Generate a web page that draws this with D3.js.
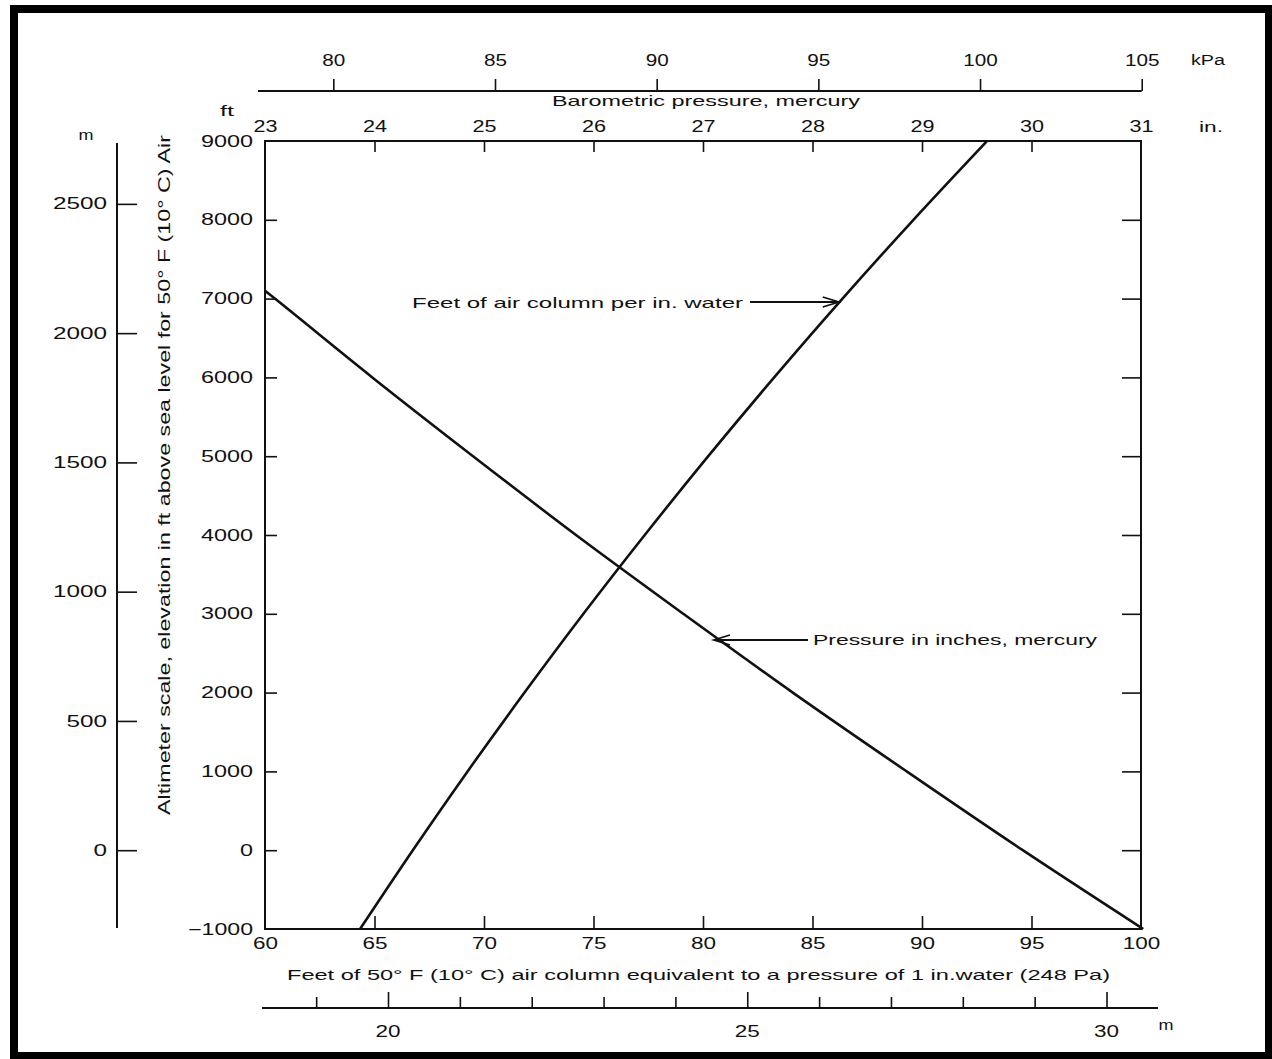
<!DOCTYPE html>
<html><head><meta charset="utf-8">
<script src="https://cdn.jsdelivr.net/npm/d3@7"></script>
<style>
html,body{margin:0;padding:0;background:#fff;}
svg text{font-family:"Liberation Sans",Arial,sans-serif;fill:#111;}
</style></head>
<body>
<svg id="c" width="1272" height="1059"></svg>
<script>
// ---- Data ----
const elevTicksFt = [9000, 8000, 7000, 6000, 5000, 4000, 3000, 2000, 1000, 0, -1000];
const elevTicksM = [2500, 2000, 1500, 1000, 500, 0];
const airColTicks = [60, 65, 70, 75, 80, 85, 90, 95, 100];
const airColTicksM = [19, 20, 21, 22, 23, 24, 25, 26, 27, 28, 29, 30];
const airColLabelsM = [20, 25, 30];
const pressureTicksIn = [23, 24, 25, 26, 27, 28, 29, 30, 31];
const pressureTicksKpa = [80, 85, 90, 95, 100, 105];

// Pressure in inches mercury vs elevation
const pressureElevFt = [-1000, 0, 1000, 2000, 3000, 4000, 5000, 6000, 7000, 7100];
const pressureInHg   = [31.02, 29.92, 28.86, 27.82, 26.82, 25.84, 24.90, 23.98, 23.09, 23.0];

// Feet of air column per inch water vs elevation
const airColElevFt = [-1000, 0, 1000, 2000, 3000, 4000, 5000, 6000, 7000, 8000, 9000];
const airColFt     = [64.34, 66.75, 69.25, 71.85, 74.54, 77.34, 80.24, 83.25, 86.37, 89.61, 92.97];

// ---- Scales ----
const L = 265, R = 1141, T = 141, B = 929;
const x = d3.scaleLinear().domain([60, 100]).range([L, R]);
const xIn = d3.scaleLinear().domain([23, 31]).range([L, R]);
const y = d3.scaleLinear().domain([-1000, 9000]).range([B, T]);
const FT_PER_M = 1 / 0.3048;
const IN_PER_KPA = 0.2953;
const yM = d3.scaleLinear().domain([0, 1]).range([y(0), y(FT_PER_M)]);
const xM = d3.scaleLinear().domain([0, 1]).range([x(0), x(FT_PER_M)]);
const xKpa = d3.scaleLinear().domain([0, 1]).range([xIn(0), xIn(IN_PER_KPA)]);

const svg = d3.select("#c");
const ink = "#111";
const FONT = '"Liberation Sans",Arial,sans-serif';

// outer frame
svg.append("rect").attr("x", 14).attr("y", 9).attr("width", 1255).attr("height", 1047)
  .attr("fill", "none").attr("stroke", "#000").attr("stroke-width", 8);

// plot frame
svg.append("rect").attr("x", L).attr("y", T).attr("width", R - L).attr("height", B - T)
  .attr("fill", "none").attr("stroke", ink).attr("stroke-width", 2);

function wide(sel, fs, cw) {
  sel.attr("font-size", fs).attr("fill", ink).style("font-family", FONT)
    .attr("lengthAdjust", "spacingAndGlyphs")
    .attr("textLength", function () { return this.textContent.length * cw; });
}
function styleAxis(g, fs, cw) {
  g.select(".domain").attr("stroke", ink).attr("stroke-width", 2);
  g.selectAll(".tick line").attr("stroke", ink).attr("stroke-width", 1.6);
  wide(g.selectAll(".tick text"), fs, cw);
}
const fmt = d => d < 0 ? "\u2212" + Math.abs(d) : String(d);

// left ft axis: labels only, inward ticks
const gL = svg.append("g").attr("transform", `translate(${L},0)`)
  .call(d3.axisLeft(y).tickValues(elevTicksFt).tickSize(0).tickPadding(12).tickFormat(fmt));
styleAxis(gL, 16, 13); gL.select(".domain").remove();
svg.append("g").attr("transform", `translate(${L},0)`)
  .call(d3.axisRight(y).tickValues(elevTicksFt.filter(d => d > -1000 && d < 9000)).tickSize(12).tickFormat(""))
  .call(g => { g.select(".domain").remove(); g.selectAll("line").attr("stroke", ink).attr("stroke-width", 1.6); });

// right axis inward ticks
svg.append("g").attr("transform", `translate(${R},0)`)
  .call(d3.axisLeft(y).tickValues(elevTicksFt.filter(d => d > -1000 && d < 9000)).tickSize(19).tickFormat(""))
  .call(g => { g.select(".domain").remove(); g.selectAll("line").attr("stroke", ink).attr("stroke-width", 1.6); });

// bottom ft axis
const gB = svg.append("g").attr("transform", `translate(0,${B})`)
  .call(d3.axisBottom(x).tickValues(airColTicks).tickSize(0).tickPadding(9).tickFormat(fmt));
styleAxis(gB, 16, 12.5); gB.select(".domain").remove();
svg.append("g").attr("transform", `translate(0,${B})`)
  .call(d3.axisTop(x).tickValues(airColTicks.filter(d => d > 60 && d < 100)).tickSize(13).tickFormat(""))
  .call(g => { g.select(".domain").remove(); g.selectAll("line").attr("stroke", ink).attr("stroke-width", 1.6); });

// top inches axis
const gT = svg.append("g").attr("transform", `translate(0,${T})`)
  .call(d3.axisTop(xIn).tickValues(pressureTicksIn).tickSize(0).tickPadding(9).tickFormat(fmt));
styleAxis(gT, 16, 12); gT.select(".domain").remove();
svg.append("g").attr("transform", `translate(0,${T})`)
  .call(d3.axisBottom(xIn).tickValues(pressureTicksIn.filter(d => d > 23 && d < 31)).tickSize(11).tickFormat(""))
  .call(g => { g.select(".domain").remove(); g.selectAll("line").attr("stroke", ink).attr("stroke-width", 1.6); });

// kPa axis
const kpaY = 91;
const gK = svg.append("g").attr("transform", `translate(0,${kpaY})`)
  .call(d3.axisTop(xKpa).tickValues(pressureTicksKpa).tickSizeInner(12).tickSizeOuter(0).tickPadding(13).tickFormat(fmt));
styleAxis(gK, 16, 11.5);
gK.select(".domain").attr("d", `M258,0H${xKpa(105)}`);

// left meter axis
const mX = 117;
const gM = svg.append("g").attr("transform", `translate(${mX},0)`)
  .call(d3.axisRight(yM).tickValues(elevTicksM).tickSizeInner(20).tickSizeOuter(0).tickFormat(""));
styleAxis(gM, 16, 13);
gM.select(".domain").attr("d", `M0,143V928`);
svg.append("g").selectAll("text").data(elevTicksM).join("text")
  .attr("x", 107).attr("y", d => yM(d)).attr("dy", "0.35em").attr("text-anchor", "end")
  .text(fmt).call(wide, 16, 13.5);

// bottom meter axis
const mY = 1008;
const gBM = svg.append("g").attr("transform", `translate(0,${mY})`)
  .call(d3.axisTop(xM).tickValues(airColTicksM).tickSizeOuter(0).tickFormat(""));
gBM.selectAll(".tick line").attr("y2", d => airColLabelsM.includes(d) ? -16 : -11)
  .attr("stroke", ink).attr("stroke-width", 1.6);
gBM.select(".domain").attr("d", `M262,0H1158`).attr("stroke", ink).attr("stroke-width", 2);
svg.append("g").selectAll("text").data(airColLabelsM).join("text")
  .attr("x", d => xM(d)).attr("y", mY + 23).attr("dy", "0.35em").attr("text-anchor", "middle")
  .text(fmt).call(wide, 16, 12.5);

// unit labels
const unit = (t, xx, yy, w) => svg.append("text").attr("x", xx).attr("y", yy).attr("dy", "0.35em")
  .attr("text-anchor", "middle").text(t).call(s => wide(s, 14, 1)).attr("textLength", w);
unit("kPa", 1208, 60, 34);
unit("in.", 1211, 127, 24);
unit("ft", 227, 111, 14);
unit("m", 86, 135, 15);
unit("m", 1166, 1025, 15);

// titles
svg.append("text").attr("x", 552).attr("y", 101).attr("dy", "0.35em").attr("font-size", 15)
  .attr("textLength", 308).attr("lengthAdjust", "spacingAndGlyphs").text("Barometric pressure, mercury");
svg.append("text").attr("x", 287).attr("y", 975).attr("dy", "0.35em").attr("font-size", 15)
  .attr("textLength", 823).attr("lengthAdjust", "spacingAndGlyphs")
  .text("Feet of 50\u00b0 F (10\u00b0 C) air column equivalent to a pressure of 1 in.water (248 Pa)");
svg.append("text").attr("transform", "translate(164,475) rotate(-90)").attr("text-anchor", "middle")
  .attr("dy", "0.35em").attr("font-size", 16)
  .attr("textLength", 680).attr("lengthAdjust", "spacingAndGlyphs")
  .text("Altimeter scale, elevation in ft above sea level for 50\u00b0 F (10\u00b0 C) Air");

// curves
const pressurePts = pressureElevFt.map((e, i) => [xIn(pressureInHg[i]), y(e)]);
const airPts = airColElevFt.map((e, i) => [x(airColFt[i]), y(e)]);
const line = d3.line().curve(d3.curveMonotoneY);
svg.append("path").attr("d", line(pressurePts)).attr("fill", "none").attr("stroke", ink).attr("stroke-width", 2.6);
svg.append("path").attr("d", line(airPts)).attr("fill", "none").attr("stroke", ink).attr("stroke-width", 2.6);

// annotations
svg.append("text").attr("x", 412).attr("y", 303).attr("dy", "0.35em").attr("font-size", 15)
  .attr("textLength", 331).attr("lengthAdjust", "spacingAndGlyphs").text("Feet of air column per in. water");
svg.append("text").attr("x", 813).attr("y", 640).attr("dy", "0.35em").attr("font-size", 15)
  .attr("textLength", 284).attr("lengthAdjust", "spacingAndGlyphs").text("Pressure in inches, mercury");

const arrowTipR = [x(86.2), 302];
svg.append("path").attr("d", `M750,302H${arrowTipR[0]}M${arrowTipR[0] - 16},297L${arrowTipR[0]},302L${arrowTipR[0] - 16},307`)
  .attr("fill", "none").attr("stroke", ink).attr("stroke-width", 1.8);
const arrowTipL = [xIn(27.1), 640];
svg.append("path").attr("d", `M808,640H${arrowTipL[0]}M${arrowTipL[0] + 16},635L${arrowTipL[0]},640L${arrowTipL[0] + 16},645`)
  .attr("fill", "none").attr("stroke", ink).attr("stroke-width", 1.8);
</script>
</body></html>
